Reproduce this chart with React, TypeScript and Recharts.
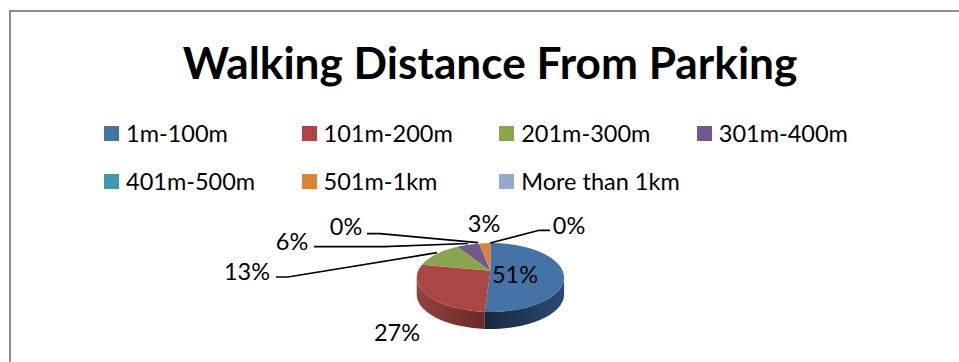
import React from "react";
import { Legend, Pie, PieChart } from "recharts";

// Survey answers, in percent of respondents
const categories = [
  "1m-100m",
  "101m-200m",
  "201m-300m",
  "301m-400m",
  "401m-500m",
  "501m-1km",
  "More than 1km",
];
const shares = [51, 27, 13, 6, 0, 3, 0];
const topColors = ["#4572a7", "#aa4643", "#89a54e", "#71588f", "#4198af", "#db843d", "#93a9cf"];
const wallColors: [string, string][] = [
  ["#16283f", "#2a4a72"],
  ["#6b2826", "#944240"],
  ["#5c7034", "#5c7034"],
  ["#4a3a5f", "#4a3a5f"],
  ["#2b6676", "#2b6676"],
  ["#935828", "#935828"],
  ["#62718b", "#62718b"],
];

const FONT = "Lato, Carlito, Calibri, sans-serif";
const WIDTH = 959;
const HEIGHT = 362;

// Tilted disc geometry: ellipse centre, radii, visible apex and wall depth
const CX = 490.4;
const CY = 277.5;
const RX = 73.7;
const RY = 34.5;
const APEX_Y = 270.7;
const DEPTH = 17;
const AXIS_X = 72.3;
const AXIS_Y = 33.2;

// Where each percentage sits, with its optional elbowed leader
type Placement = { x: number; y: number; leader?: [number, number][] };
const placements: Placement[] = [
  { x: 515, y: 274 },
  { x: 397, y: 332 },
  { x: 247, y: 271, leader: [[276, 277], [288, 277], [437, 252.7]] },
  { x: 292, y: 241, leader: [[314, 246.7], [384, 246.7], [468, 243.5]] },
  { x: 346, y: 226, leader: [[367, 233.7], [380, 233.7], [478, 242.7]] },
  { x: 484, y: 223 },
  { x: 569, y: 225, leader: [[550, 230.3], [539.3, 230.3], [490, 243]] },
];

const chartData = categories.map((name, i) => ({ name, value: shares[i], fill: topColors[i] }));

// Projects a pie angle on to the rim of the tilted disc: the ray leaves the
// off-centre apex and is intersected with the ellipse.
function rimPoint(angle: number): [number, number] {
  const rad = (angle * Math.PI) / 180;
  const dx = AXIS_X * Math.cos(rad);
  const dy = -AXIS_Y * Math.sin(rad);
  const oy = APEX_Y - CY;
  const a = (dx * dx) / (RX * RX) + (dy * dy) / (RY * RY);
  const b = (2 * oy * dy) / (RY * RY);
  const c = (oy * oy) / (RY * RY) - 1;
  const t = (-b + Math.sqrt(b * b - 4 * a * c)) / (2 * a);
  return [CX + t * dx, APEX_Y + t * dy];
}

function TopFace(props: any) {
  const { startAngle, endAngle, fill } = props;
  if (Math.abs(startAngle - endAngle) < 0.01) return null;
  const [x0, y0] = rimPoint(startAngle);
  const [x1, y1] = rimPoint(endAngle);
  const large = Math.abs(startAngle - endAngle) > 180 ? 1 : 0;
  const d = `M${CX},${APEX_Y}L${x0},${y0}A${RX},${RY} 0 ${large} 1 ${x1},${y1}Z`;
  return <path d={d} fill={fill} />;
}

// Front wall of the disc: only the part of a slice below the ellipse's waist shows.
function SideWall(props: any) {
  const { startAngle, endAngle, index } = props;
  if (Math.abs(startAngle - endAngle) < 0.01) return null;
  const [sx, sy] = rimPoint(startAngle);
  const [ex, ey] = rimPoint(endAngle);
  const clipStart = sy < CY ? [CX + RX, CY] : [sx, sy];
  const clipEnd = ey < CY ? [CX - RX, CY] : [ex, ey];
  if (sy < CY && ey < CY) return null;
  const d =
    `M${clipStart[0]},${clipStart[1]}` +
    `A${RX},${RY} 0 0 1 ${clipEnd[0]},${clipEnd[1]}` +
    `L${clipEnd[0]},${clipEnd[1] + DEPTH}` +
    `A${RX},${RY} 0 0 0 ${clipStart[0]},${clipStart[1] + DEPTH}Z`;
  return <path d={d} fill={`url(#wall-${index})`} />;
}

function PercentLabel(props: any) {
  const { index, value } = props;
  const place = placements[index];
  return (
    <g>
      {place.leader && (
        <polyline
          points={place.leader.map((p) => p.join(",")).join(" ")}
          fill="none"
          stroke="#000"
          strokeWidth={1.7}
        />
      )}
      <text
        x={place.x}
        y={place.y}
        textAnchor="middle"
        dominantBaseline="central"
        fontFamily={FONT}
        fontSize={23.5}
        fill="#000"
      >
        {`${value}%`}
      </text>
    </g>
  );
}

// Both pie layers report the same slices, so each category is listed once.
function LegendRows(props: any) {
  const { payload = [] } = props;
  const items = categories.map((name) => payload.find((p: any) => p.value === name)).filter(Boolean);
  return (
    <div
      style={{
        display: "grid",
        gridTemplateColumns: "repeat(4, 197.6px)",
        gridAutoRows: "48px",
        fontFamily: FONT,
        fontSize: 23.5,
        color: "#000",
      }}
    >
      {items.map((item: any) => (
        <div key={item.value} style={{ display: "flex", alignItems: "center", height: 24, whiteSpace: "nowrap" }}>
          <span style={{ width: 15, height: 15, background: item.color, marginRight: 7, flex: "none" }} />
          <span>{item.value}</span>
        </div>
      ))}
    </div>
  );
}

export default function App() {
  return (
    <div style={{ position: "absolute", left: 0, top: 0, width: WIDTH, height: HEIGHT, overflow: "hidden", background: "#fff" }}>
      <div
        style={{
          position: "absolute",
          left: 9,
          top: 10,
          width: WIDTH,
          height: HEIGHT,
          borderLeft: "2px solid #8e8e8e",
          borderTop: "2px solid #8e8e8e",
        }}
      />
      <div
        style={{
          position: "absolute",
          left: 0,
          top: 36,
          width: 980,
          textAlign: "center",
          fontFamily: FONT,
          fontWeight: 700,
          fontSize: 44.2,
          lineHeight: "52px",
          color: "#000",
        }}
      >
        Walking Distance From Parking
      </div>
      <PieChart width={WIDTH} height={HEIGHT} margin={{ top: 0, right: 0, bottom: 0, left: 0 }} style={{ position: "absolute", left: 0, top: 0 }}>
        <defs>
          {wallColors.map(([from, to], i) => (
            <linearGradient key={i} id={`wall-${i}`} x1="0" y1="0" x2="1" y2="0">
              <stop offset="0%" stopColor={i === 0 ? from : to} />
              <stop offset="100%" stopColor={i === 0 ? to : from} />
            </linearGradient>
          ))}
        </defs>
        <Legend
          layout="horizontal"
          align="left"
          verticalAlign="top"
          content={<LegendRows />}
          wrapperStyle={{ position: "absolute", left: 104, top: 121, width: 800, height: 80 }}
        />
        <Pie
          data={chartData}
          dataKey="value"
          nameKey="name"
          cx={CX}
          cy={CY}
          outerRadius={RX}
          startAngle={90}
          endAngle={-270}
          stroke="none"
          legendType="none"
          shape={<SideWall />}
          isAnimationActive={false}
        />
        <Pie
          data={chartData}
          dataKey="value"
          nameKey="name"
          cx={CX}
          cy={CY}
          outerRadius={RX}
          startAngle={90}
          endAngle={-270}
          stroke="none"
          legendType="square"
          shape={<TopFace />}
          label={<PercentLabel />}
          labelLine={false}
          isAnimationActive={false}
        />
      </PieChart>
    </div>
  );
}
